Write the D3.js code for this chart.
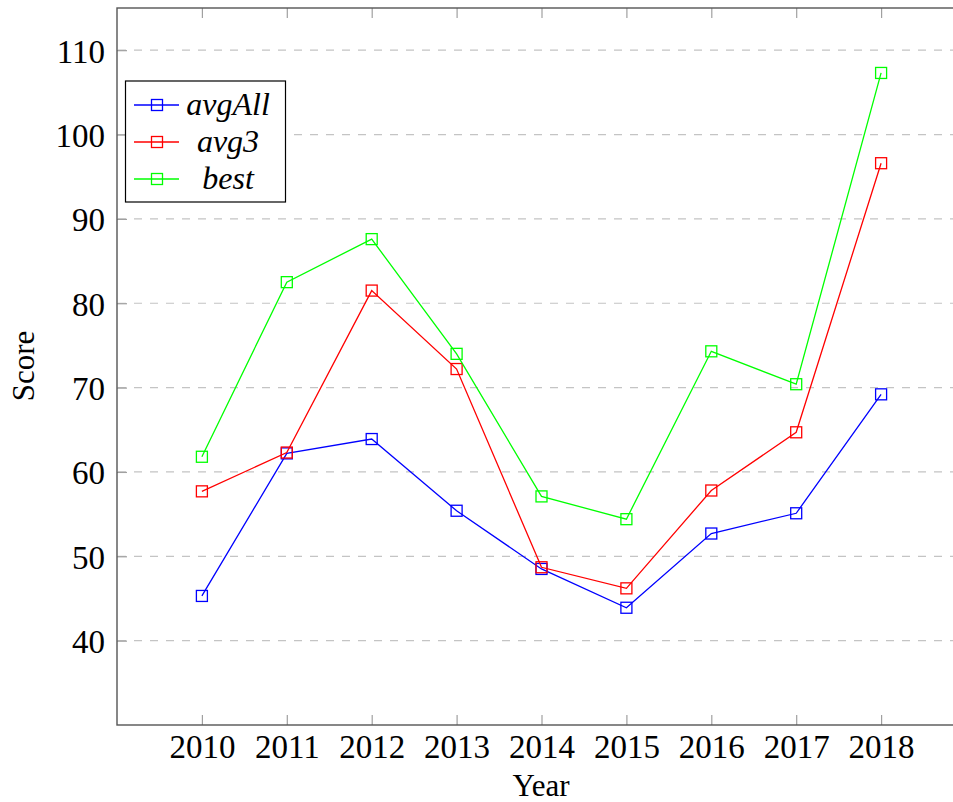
<!DOCTYPE html>
<html>
<head>
<meta charset="utf-8">
<script src="https://cdn.jsdelivr.net/npm/d3@7"></script>
<style>
  body { margin: 0; background: #fff; }
  svg { display: block; }
  svg text { font-family: "Liberation Serif", "DejaVu Serif", serif !important; }
</style>
</head>
<body>
<div class="vis"></div>
<script>
// data
const years = [2010, 2011, 2012, 2013, 2014, 2015, 2016, 2017, 2018]
const avgAll = [45.3, 62.2, 63.9, 55.4, 48.5, 43.9, 52.7, 55.1, 69.2]
const avg3 = [57.7, 62.3, 81.5, 72.2, 48.7, 46.2, 57.8, 64.7, 96.6]
const best = [61.8, 82.5, 87.6, 74.0, 57.1, 54.4, 74.3, 70.4, 107.3]
const yTicks = [40, 50, 60, 70, 80, 90, 100, 110]

const series = [
  { name: 'avgAll', values: avgAll, color: '#0000ff' },
  { name: 'avg3', values: avg3, color: '#ff0000' },
  { name: 'best', values: best, color: '#00ff00' }
]

const w = 953
const h = 802
const plotLeft = 117, plotRight = 966, plotTop = 8, plotBottom = 725

const svg = d3.select('.vis')
  .append('svg')
  .attr('width', w)
  .attr('height', h)

// 比例尺
const xScale = d3.scaleLinear().domain([2009, 2019]).range([plotLeft, plotRight])
const yScale = d3.scaleLinear().domain([30, 115]).range([plotBottom, plotTop])

// 网格线
svg.append('g')
  .selectAll('line')
  .data(yTicks)
  .enter().append('line')
  .attr('x1', plotLeft + 1)
  .attr('x2', plotRight)
  .attr('y1', d => yScale(d))
  .attr('y2', d => yScale(d))
  .attr('stroke', '#c4c4c4')
  .attr('stroke-width', 1.2)
  .attr('stroke-dasharray', '8,8')

// 坐标轴 (ticks inward)
const xAxis = d3.axisBottom(xScale).tickValues(years).tickSize(-10).tickPadding(10).tickFormat(d3.format('d'))
const xAxisTop = d3.axisTop(xScale).tickValues(years).tickSize(-10).tickFormat('')
const yAxis = d3.axisLeft(yScale).tickValues(yTicks).tickSize(-10).tickPadding(12)

const gx = svg.append('g')
  .attr('transform', 'translate(0,' + plotBottom + ')')
  .call(xAxis)
const gxt = svg.append('g')
  .attr('transform', 'translate(0,' + plotTop + ')')
  .call(xAxisTop)
const gy = svg.append('g')
  .attr('transform', 'translate(' + plotLeft + ',0)')
  .call(yAxis)

;[gx, gxt, gy].forEach(g => {
  g.select('.domain').remove()
  g.selectAll('.tick line').attr('stroke', '#a0a0a0').attr('stroke-width', 1.2)
  g.selectAll('.tick text')
    .attr('fill', '#000')
    .attr('font-size', 33)
})
gy.selectAll('.tick text').attr('dy', '0.36em')

// 边框
svg.append('rect')
  .attr('x', plotLeft)
  .attr('y', plotTop)
  .attr('width', plotRight - plotLeft)
  .attr('height', plotBottom - plotTop)
  .attr('fill', 'none')
  .attr('stroke', '#555')
  .attr('stroke-width', 1.4)

// 折线和标记
const line = d3.line()
  .x((d, i) => xScale(years[i]))
  .y(d => yScale(d))

series.forEach(s => {
  svg.append('path')
    .datum(s.values)
    .attr('d', line)
    .attr('fill', 'none')
    .attr('stroke', s.color)
    .attr('stroke-width', 1.3)

  svg.append('g')
    .selectAll('rect')
    .data(s.values)
    .enter().append('rect')
    .attr('x', (d, i) => xScale(years[i]) - 5.5)
    .attr('y', d => yScale(d) - 5.5)
    .attr('width', 11)
    .attr('height', 11)
    .attr('fill', 'none')
    .attr('stroke', s.color)
    .attr('stroke-width', 1.3)
})

// 图例
const legend = svg.append('g')
legend.append('rect')
  .attr('x', 125.5)
  .attr('y', 81)
  .attr('width', 160)
  .attr('height', 121)
  .attr('fill', '#fff')
  .attr('stroke', '#000')
  .attr('stroke-width', 1.2)

series.forEach((s, i) => {
  const ly = 105 + i * 37
  legend.append('line')
    .attr('x1', 134).attr('x2', 179)
    .attr('y1', ly).attr('y2', ly)
    .attr('stroke', s.color)
    .attr('stroke-width', 1.3)
  legend.append('rect')
    .attr('x', 151.5).attr('y', ly - 5.5)
    .attr('width', 11).attr('height', 11)
    .attr('fill', 'none')
    .attr('stroke', s.color)
    .attr('stroke-width', 1.3)
  legend.append('text')
    .attr('x', 228)
    .attr('y', ly + 10)
    .attr('text-anchor', 'middle')
    .attr('font-size', 32)
    .attr('font-style', 'italic')
    .text(s.name)
})

// 轴标题
svg.append('text')
  .attr('x', 541)
  .attr('y', 796)
  .attr('text-anchor', 'middle')
  .attr('font-size', 31)
  .text('Year')

svg.append('text')
  .attr('transform', 'translate(34,' + 366 + ') rotate(-90)')
  .attr('text-anchor', 'middle')
  .attr('font-size', 31)
  .text('Score')
</script>
</body>
</html>
